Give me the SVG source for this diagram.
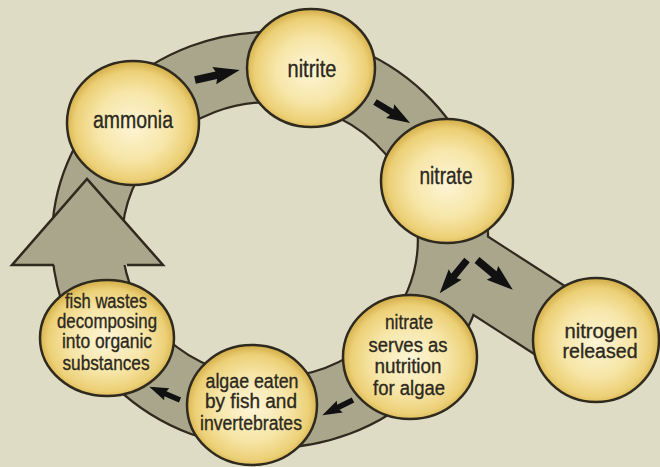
<svg xmlns="http://www.w3.org/2000/svg" width="660" height="467" viewBox="0 0 660 467">
<defs>
<radialGradient id="ball" cx="50%" cy="52%" r="50%">
<stop offset="0" stop-color="#fdf5d6"/>
<stop offset="0.55" stop-color="#f7e6a8"/>
<stop offset="0.88" stop-color="#ecd077"/>
<stop offset="1" stop-color="#d9b552"/>
</radialGradient>
<path id="arr" d="M0,-3.6 L21,-3.6 L19,-8.5 L44,0 L19,8.5 L21,3.6 L0,3.6 Z"/>
</defs>
<style>
.node{fill:url(#ball);stroke:#2f2a1e;stroke-width:2.5}
.lbl{font-family:"Liberation Sans",Arial,sans-serif;fill:#2c2920;stroke:#2c2920;stroke-width:0.35;text-anchor:middle;font-size:20px}
.big{font-size:23px}
.bandk{fill:none;stroke:#2f2a1e}
.bandg{fill:none;stroke:#a9a68b}
.ar{fill:#111}
</style>
<rect width="660" height="467" fill="#dfdcc6"/>
<g id="connectors">
<ellipse class="bandk" cx="270" cy="240" rx="183" ry="173" stroke-width="72.5"/>
<line class="bandk" x1="450" y1="256" x2="596" y2="350" stroke-width="76"/>
<ellipse class="bandg" cx="270" cy="240" rx="183" ry="173" stroke-width="68"/>
<line class="bandg" x1="450" y1="256" x2="596" y2="350" stroke-width="71.5"/>
<path d="M54,265 L12,265 L87,179 L163,265 L127,265" fill="#a9a68b" stroke="#2f2a1e" stroke-width="2.5" stroke-linejoin="miter"/>
<use href="#arr" class="ar" transform="translate(195,80) rotate(-12.5) scale(1.04)"/>
<use href="#arr" class="ar" transform="translate(375,102) rotate(31) scale(0.93)"/>
<use href="#arr" class="ar" transform="translate(467,260) rotate(129.3) scale(0.98)"/>
<use href="#arr" class="ar" transform="translate(477,260) rotate(39.8) scale(1.06)"/>
<use href="#arr" class="ar" transform="translate(353,400) rotate(153.4) scale(0.78)"/>
<use href="#arr" class="ar" transform="translate(180,400) rotate(203.4) scale(0.76)"/>
</g>
<g id="ammonia">
<ellipse class="node" cx="133" cy="123" rx="66" ry="62"/>
<text class="lbl big" x="133" y="128" textLength="80" lengthAdjust="spacingAndGlyphs">ammonia</text>
</g>
<g id="nitrite">
<ellipse class="node" cx="311" cy="68" rx="64" ry="59"/>
<text class="lbl big" x="312" y="77" textLength="49" lengthAdjust="spacingAndGlyphs">nitrite</text>
</g>
<g id="nitrate">
<ellipse class="node" cx="447" cy="181" rx="66" ry="62"/>
<text class="lbl big" x="446" y="184" textLength="53" lengthAdjust="spacingAndGlyphs">nitrate</text>
</g>
<g id="nitrogen">
<ellipse class="node" cx="596" cy="340" rx="63" ry="62"/>
<text class="lbl" x="601" y="338" textLength="73" lengthAdjust="spacingAndGlyphs">nitrogen</text>
<text class="lbl" x="600" y="358" textLength="75" lengthAdjust="spacingAndGlyphs">released</text>
</g>
<g id="nutrition">
<ellipse class="node" cx="410" cy="357" rx="67" ry="62"/>
<text class="lbl" x="409" y="329" textLength="48" lengthAdjust="spacingAndGlyphs">nitrate</text>
<text class="lbl" x="408" y="352" textLength="79" lengthAdjust="spacingAndGlyphs">serves as</text>
<text class="lbl" x="408" y="373" textLength="67" lengthAdjust="spacingAndGlyphs">nutrition</text>
<text class="lbl" x="409" y="395" textLength="72" lengthAdjust="spacingAndGlyphs">for algae</text>
</g>
<g id="algae">
<ellipse class="node" cx="252" cy="405" rx="65" ry="60"/>
<text class="lbl" x="252" y="388" textLength="93" lengthAdjust="spacingAndGlyphs">algae eaten</text>
<text class="lbl" x="251" y="408" textLength="92" lengthAdjust="spacingAndGlyphs">by fish and</text>
<text class="lbl" x="251" y="430" textLength="102" lengthAdjust="spacingAndGlyphs">invertebrates</text>
</g>
<g id="fishwastes">
<ellipse class="node" cx="107" cy="338" rx="67" ry="58"/>
<text class="lbl" x="106" y="308" textLength="82" lengthAdjust="spacingAndGlyphs">fish wastes</text>
<text class="lbl" x="107" y="328" textLength="100" lengthAdjust="spacingAndGlyphs">decomposing</text>
<text class="lbl" x="107" y="348" textLength="90" lengthAdjust="spacingAndGlyphs">into organic</text>
<text class="lbl" x="106" y="370" textLength="87" lengthAdjust="spacingAndGlyphs">substances</text>
</g>
</svg>
